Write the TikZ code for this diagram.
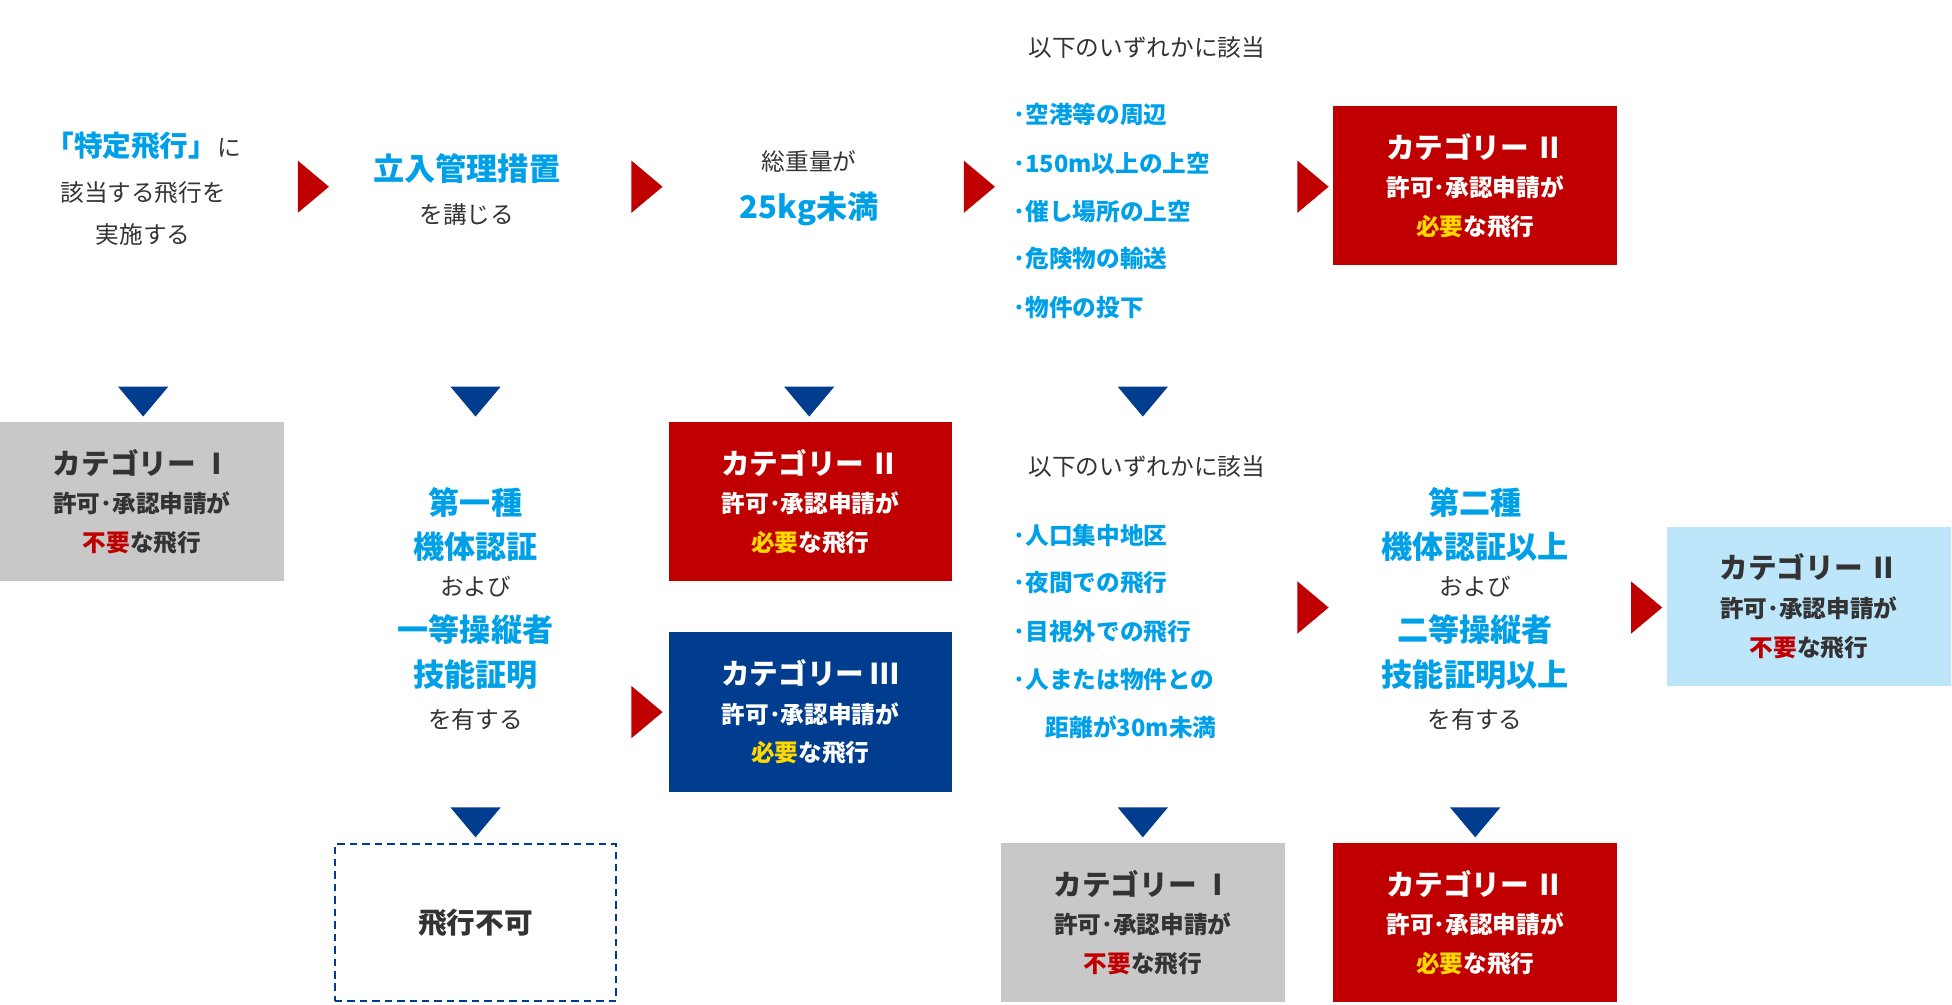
\documentclass[tikz,border=0pt]{standalone}
\usepackage{fontspec}
\setmainfont{Noto Sans CJK JP}
\usetikzlibrary{shapes.geometric}
\definecolor{tblue}{RGB}{0,160,233}
\definecolor{cred}{RGB}{192,0,0}
\definecolor{cnavy}{RGB}{0,61,143}
\definecolor{cgray}{RGB}{200,200,200}
\definecolor{clight}{RGB}{190,230,250}
\definecolor{cyel}{RGB}{255,216,0}
\definecolor{dtext}{RGB}{51,51,51}
\tikzset{
  x=1pt,y=-1pt,
  txt/.style={text=dtext,font=\fontsize{19}{22}\selectfont,inner sep=0pt},
  big/.style={text=tblue,font=\fontsize{25}{28}\selectfont\bfseries,inner sep=0pt},
  blt/.style={text=tblue,font=\fontsize{19}{22}\selectfont\bfseries,inner sep=0pt,anchor=west},
  cat/.style={minimum width=228pt,minimum height=128pt,inner sep=0pt,align=center,font=\fontsize{19}{31}\selectfont\bfseries},
  redbox/.style={cat,fill=cred,text=white},
  navybox/.style={cat,fill=cnavy,text=white},
  graybox/.style={cat,fill=cgray,text=dtext},
  lightbox/.style={cat,fill=clight,text=dtext},
  rarr/.style={isosceles triangle,isosceles triangle apex angle=80,fill=cred,minimum height=25pt,minimum width=33pt,inner sep=0pt},
  darr/.style={isosceles triangle,isosceles triangle apex angle=80,fill=cnavy,shape border rotate=-90,minimum height=24pt,minimum width=33pt,inner sep=0pt},
}
\newcommand{\catbig}[1]{{\fontsize{23}{31}\selectfont #1}}
\newcommand{\kyoka}{許可･承認申請が}
\begin{document}
\begin{tikzpicture}
\useasboundingbox (0,0) rectangle (1568,807);
% row 1
\node[txt] (a1) at (115,117) {\textcolor{tblue}{\bfseries\fontsize{23}{26}\selectfont 「特定飛行」}に};
\node[txt] (a2) at (115,155) {該当する飛行を};
\node[txt] (a3) at (115,188) {実施する};
\node[rarr] (r1) at (249,150) {};
\node[big] (b1) at (375,135) {立入管理措置};
\node[txt] (b2) at (375,172) {を講じる};
\node[rarr] (r2) at (517,150) {};
\node[txt] (c1) at (650,130) {総重量が};
\node[big] (c2) at (650,168) {25kg未満};
\node[rarr] (r3) at (784,150) {};
\node[txt,anchor=west] (d0) at (826,38) {以下のいずれかに該当};
\node[blt] (d1) at (814,92) {･空港等の周辺};
\node[blt] (d2) at (814,131) {･150m以上の上空};
\node[blt] (d3) at (814,170) {･催し場所の上空};
\node[blt] (d4) at (814,208) {･危険物の輸送};
\node[blt] (d5) at (814,247) {･物件の投下};
\node[rarr] (r4) at (1052,150) {};
\node[redbox] (e1) at (1185,149) {\catbig{カテゴリー Ⅱ}\\\kyoka\\\textcolor{cyel}{必要}な飛行};
% down arrows row 1
\node[darr] (t1) at (115,320) {};
\node[darr] (t2) at (382,320) {};
\node[darr] (t3) at (650,320) {};
\node[darr] (t4) at (918,320) {};
% row 2
\node[graybox] (g1) at (114,403) {\catbig{カテゴリー Ⅰ}\\\kyoka\\\textcolor{cred}{不要}な飛行};
\node[big] (f1) at (382,404) {第一種};
\node[big] (f2) at (382,439) {機体認証};
\node[txt] (f3) at (382,471) {および};
\node[big] (f4) at (382,506) {一等操縦者};
\node[big] (f5) at (382,542) {技能証明};
\node[txt] (f6) at (382,578) {を有する};
\node[redbox] (h1) at (651,403) {\catbig{カテゴリー Ⅱ}\\\kyoka\\\textcolor{cyel}{必要}な飛行};
\node[navybox] (h2) at (651,572) {\catbig{カテゴリー Ⅲ}\\\kyoka\\\textcolor{cyel}{必要}な飛行};
\node[rarr] (r5) at (517,572) {};
\node[txt,anchor=west] (k0) at (826,375) {以下のいずれかに該当};
\node[blt] (k1) at (814,430) {･人口集中地区};
\node[blt] (k2) at (814,468) {･夜間での飛行};
\node[blt] (k3) at (814,507) {･目視外での飛行};
\node[blt] (k4) at (814,546) {･人または物件との};
\node[blt] (k5) at (840,584) {距離が30m未満};
\node[rarr] (r6) at (1052,488) {};
\node[big] (m1) at (1185,404) {第二種};
\node[big] (m2) at (1185,439) {機体認証以上};
\node[txt] (m3) at (1185,471) {および};
\node[big] (m4) at (1185,506) {二等操縦者};
\node[big] (m5) at (1185,542) {技能証明以上};
\node[txt] (m6) at (1185,578) {を有する};
\node[rarr] (r7) at (1320,488) {};
\node[lightbox] (n1) at (1453,487) {\catbig{カテゴリー Ⅱ}\\\kyoka\\\textcolor{cred}{不要}な飛行};
% down arrows row 2
\node[darr] (t5) at (382,658) {};
\node[darr] (t6) at (918,658) {};
\node[darr] (t7) at (1185,658) {};
% row 3
\node[cat,draw=cnavy,dash pattern=on 6pt off 4pt,line width=1.5pt,minimum width=226pt,minimum height=126pt,text=dtext,font=\fontsize{23}{28}\selectfont\bfseries] (p1) at (382,741) {飛行不可};
\node[graybox] (p2) at (918,741) {\catbig{カテゴリー Ⅰ}\\\kyoka\\\textcolor{cred}{不要}な飛行};
\node[redbox] (p3) at (1185,741) {\catbig{カテゴリー Ⅱ}\\\kyoka\\\textcolor{cyel}{必要}な飛行};
\end{tikzpicture}
\end{document}
